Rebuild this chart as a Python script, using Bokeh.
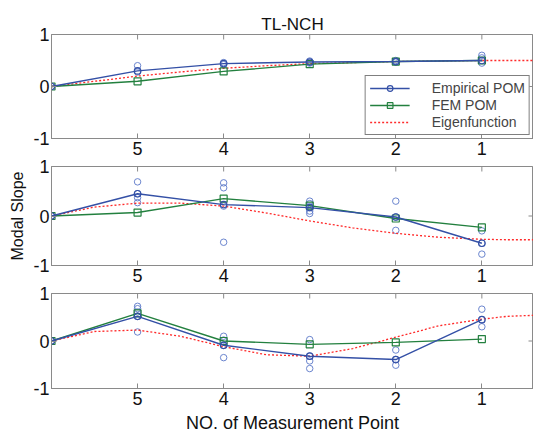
from bokeh.plotting import figure
from bokeh.layouts import column
from bokeh.models import Range1d, FixedTicker, LinearAxis
from bokeh.embed import file_html
from bokeh.resources import INLINE

# ---------------- data ----------------
point_x = [0, 1, 2, 3, 4, 5]
tick_x = [1, 2, 3, 4, 5]
tick_labels = ["5", "4", "3", "2", "1"]
y_ticks = [-1, 0, 1]
y_tick_labels = ["-1", "0", "1"]
eig_x = [0, 0.5, 1, 1.5, 2, 2.5, 3, 3.5, 4, 4.5, 5, 5.3, 5.6]

# panel 1
emp1 = [0, 0.30, 0.44, 0.47, 0.48, 0.50]
fem1 = [0, 0.10, 0.29, 0.43, 0.48, 0.50]
eig1 = [0, 0.10, 0.20, 0.28, 0.35, 0.40, 0.44, 0.46, 0.48, 0.49, 0.50, 0.50, 0.50]
sc1_x = [1, 1, 2, 2, 3, 3, 4, 4, 5, 5, 5]
sc1_y = [0.40, 0.28, 0.42, 0.46, 0.45, 0.49, 0.47, 0.50, 0.45, 0.55, 0.60]

# panel 2
emp2 = [0, 0.45, 0.23, 0.17, -0.02, -0.55]
fem2 = [0, 0.07, 0.35, 0.21, -0.05, -0.23]
eig2 = [0, 0.18, 0.26, 0.26, 0.20, 0.06, -0.10, -0.24, -0.35, -0.43, -0.47, -0.48, -0.48]
sc2_x = [1, 1, 1, 1, 2, 2, 2, 2, 3, 3, 3, 3, 3, 4, 4, 4, 5, 5, 5]
sc2_y = [0.69, 0.45, 0.37, 0.27, 0.67, 0.57, 0.20, -0.53, 0.30, 0.25, 0.18, 0.10, 0.05,
         0.30, -0.02, -0.29, -0.30, -0.55, -0.77]

# panel 3
emp3 = [0, 0.52, -0.09, -0.32, -0.39, 0.45]
fem3 = [0, 0.58, 0.00, -0.07, -0.03, 0.04]
eig3 = [0, 0.20, 0.23, 0.10, -0.12, -0.29, -0.32, -0.16, 0.08, 0.32, 0.46, 0.52, 0.54]
sc3_x = [1, 1, 1, 1, 1, 2, 2, 2, 2, 3, 3, 3, 3, 4, 4, 4, 5, 5, 5]
sc3_y = [0.73, 0.68, 0.61, 0.52, 0.19, 0.10, 0.02, -0.09, -0.35, 0.03, -0.32, -0.42, -0.58,
         -0.19, -0.39, -0.51, 0.67, 0.45, 0.30]

BLUE = "#3450a6"
LBLUE = "#5b78c8"
GREEN = "#23803f"
RED = "#ff2a2a"
GRAY = "#8a8a8a"
FONT = "Liberation Sans"
FW = 482
XMAX = 5.6
TICK_PX = 5


def style_axis(ax, size):
    ax.axis_line_color = GRAY
    ax.major_tick_line_color = GRAY
    ax.major_tick_in = TICK_PX
    ax.major_tick_out = 0
    ax.minor_tick_line_color = None
    ax.major_label_text_font = FONT
    ax.major_label_text_color = "#111111"
    ax.major_label_text_font_size = size


def make_panel(emp, fem, eig, sx, sy, fh, top, ylabel=" ", xlabel=None, legend=False):
    p = figure(frame_width=FW, frame_height=fh,
               x_range=Range1d(0, XMAX), y_range=Range1d(-1, 1),
               output_backend="svg", toolbar_location=None,
               min_border_left=0, min_border_right=0,
               min_border_top=top, min_border_bottom=0,
               x_axis_location=None, y_axis_location=None,
               margin=(0, 0, 0, 6))
    p.xgrid.visible = False
    p.ygrid.visible = False
    p.outline_line_color = GRAY
    p.background_fill_color = "white"
    p.border_fill_color = "white"

    bx = LinearAxis(ticker=FixedTicker(ticks=tick_x),
                    major_label_overrides={t: l for t, l in zip(tick_x, tick_labels)})
    style_axis(bx, "18px")
    bx.major_label_standoff = 3
    if xlabel:
        bx.axis_label = xlabel
        bx.axis_label_text_font = FONT
        bx.axis_label_text_font_size = "18px"
        bx.axis_label_text_font_style = "normal"
        bx.axis_label_text_color = "#111111"
        bx.axis_label_standoff = 5
    p.add_layout(bx, "below")

    ly = LinearAxis(ticker=FixedTicker(ticks=y_ticks),
                    major_label_overrides={t: l for t, l in zip(y_ticks, y_tick_labels)})
    style_axis(ly, "18px")
    ly.major_label_standoff = 2
    ly.axis_label = ylabel
    ly.axis_label_text_font = FONT
    ly.axis_label_text_font_size = "16px"
    ly.axis_label_text_font_style = "normal"
    ly.axis_label_text_color = "#111111"
    ly.axis_label_standoff = 4
    p.add_layout(ly, "left")

    # inward tick marks on the top and right edges of the box
    dy = 2.0 * TICK_PX / fh
    dx = XMAX * TICK_PX / FW
    p.segment(x0=tick_x, x1=tick_x, y0=[1 - dy] * len(tick_x), y1=[1] * len(tick_x),
              line_color=GRAY, line_width=1)
    p.segment(x0=[XMAX - dx] * len(y_ticks), x1=[XMAX] * len(y_ticks),
              y0=y_ticks, y1=y_ticks, line_color=GRAY, line_width=1)

    # individual empirical estimates
    p.scatter(sx, sy, marker="circle", size=6.5, fill_color=None,
              line_color=LBLUE, line_width=0.9)

    kw_e = dict(legend_label="Empirical POM") if legend else {}
    kw_f = dict(legend_label="FEM POM") if legend else {}
    kw_r = dict(legend_label="Eigenfunction") if legend else {}

    p.line(eig_x, eig, line_color=RED, line_width=1.3, line_dash="2 2", **kw_r)
    p.line(point_x, fem, line_color=GREEN, line_width=1.4, **kw_f)
    p.scatter(point_x, fem, marker="square", size=7, fill_color=None,
              line_color=GREEN, line_width=1.2, **kw_f)
    p.line(point_x, emp, line_color=BLUE, line_width=1.4, **kw_e)
    p.scatter(point_x, emp, marker="circle", size=6.5, fill_color=None,
              line_color=BLUE, line_width=1.2, **kw_e)
    if legend:
        lg = p.legend[0]
        lg.location = "bottom_right"
        lg.margin = 3
        lg.padding = 4
        lg.spacing = 1
        lg.label_height = 14
        lg.glyph_height = 14
        lg.glyph_width = 40
        lg.label_standoff = 22
        lg.label_text_font = FONT
        lg.label_text_font_size = "14px"
        lg.border_line_color = "black"
        lg.border_line_width = 1
        lg.background_fill_alpha = 1.0
        items = {it.label.value: it for it in lg.items}
        lg.items = [items["Empirical POM"], items["FEM POM"], items["Eigenfunction"]]
    return p


p1 = make_panel(emp1, fem1, eig1, sc1_x, sc1_y, 104, 34, legend=True)
p1.title.text = "TL-NCH"
p1.title.align = "center"
p1.title.text_font = FONT
p1.title.text_font_size = "17px"
p1.title.text_font_style = "normal"
p1.title.text_color = "#111111"
p1.title.standoff = 2

p2 = make_panel(emp2, fem2, eig2, sc2_x, sc2_y, 99, 9, ylabel="Modal Slope")

p3 = make_panel(emp3, fem3, eig3, sc3_x, sc3_y, 95, 9, xlabel="NO. of Measurement Point")

layout = column(p1, p2, p3, spacing=0)
open("out.html", "w").write(file_html(layout, INLINE))
